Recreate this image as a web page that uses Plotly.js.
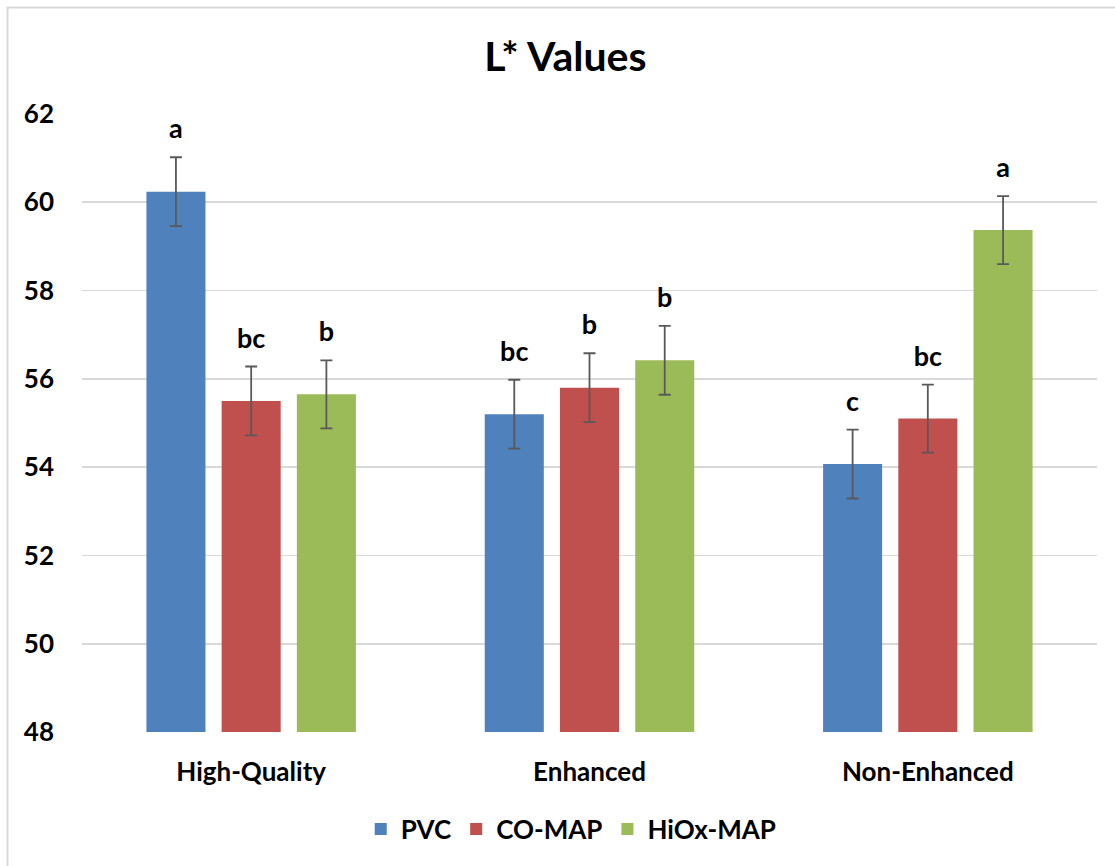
<!DOCTYPE html>
<html>
<head>
<meta charset="utf-8">
<script src="https://cdn.plot.ly/plotly-3.0.1.min.js"></script>
<style>html,body{margin:0;padding:0;background:#fff;}#chart{width:1115px;height:866px;}</style>
</head>
<body>
<div id="chart"></div>
<script>
const categories = ["High-Quality", "Enhanced", "Non-Enhanced"];
const seriesNames = ["PVC", "CO-MAP", "HiOx-MAP"];
const pvcValues = [60.24, 55.20, 54.07];
const comapValues = [55.50, 55.80, 55.10];
const hioxValues = [55.65, 56.42, 59.37];
const pvcErrors = [0.78, 0.78, 0.78];
const comapErrors = [0.78, 0.78, 0.77];
const hioxErrors = [0.77, 0.78, 0.77];
const pvcLetters = ["a", "bc", "c"];
const comapLetters = ["bc", "b", "bc"];
const hioxLetters = ["b", "b", "a"];
const yTicks = [48, 50, 52, 54, 56, 58, 60, 62];

const colors = ["#4F81BD", "#C0504D", "#9BBB59"];
const values = [pvcValues, comapValues, hioxValues];
const errors = [pvcErrors, comapErrors, hioxErrors];
const letters = [pvcLetters, comapLetters, hioxLetters];
const fontFam = "Lato, 'Open Sans', sans-serif";

const traces = [];
for (let i = 0; i < 3; i++) {
  traces.push({
    type: "bar",
    name: seriesNames[i],
    x: categories,
    y: values[i],
    offsetgroup: String(i),
    alignmentgroup: "g",
    marker: {color: colors[i]},
    error_y: {type: "data", array: errors[i], visible: true, color: "#595959", thickness: 1.8, width: 6},
    hoverinfo: "none"
  });
}
for (let i = 0; i < 3; i++) {
  traces.push({
    type: "scatter",
    mode: "markers+text",
    x: categories,
    y: values[i].map((v, k) => v + errors[i][k]),
    text: letters[i],
    textposition: "top center",
    marker: {size: 18, color: "rgba(0,0,0,0)"},
    textfont: {family: fontFam, size: 27, color: "#000", weight: "bold"},
    offsetgroup: String(i),
    alignmentgroup: "g",
    showlegend: false,
    hoverinfo: "none",
    cliponaxis: false
  });
}

const layout = {
  width: 1115,
  height: 866,
  margin: {l: 82, r: 18, t: 114, b: 134},
  paper_bgcolor: "#fff",
  plot_bgcolor: "#fff",
  barmode: "group",
  scattermode: "group",
  bargap: 0.333,
  bargroupgap: 0.215,
  scattergap: 0.333,
  title: {
    text: "<b>L* Values</b>",
    x: 0.507, xref: "container", xanchor: "center",
    y: 54, yref: "container", yanchor: "middle",
    font: {family: fontFam, size: 41, color: "#000"}
  },
  xaxis: {
    type: "category",
    showgrid: false,
    showline: false,
    zeroline: false,
    ticks: "",
    tickfont: {family: fontFam, size: 26, color: "#000", weight: "bold"},
    ticklabelstandoff: 22
  },
  yaxis: {
    range: [48, 62],
    tickvals: yTicks,
    ticktext: yTicks.map(String),
    showgrid: true,
    gridcolor: "#D9D9D9",
    gridwidth: 1.6,
    zeroline: false,
    showline: false,
    ticks: "",
    tickfont: {family: fontFam, size: 26, color: "#000", weight: "bold"},
    ticklabelstandoff: 27
  },
  legend: {
    orientation: "h",
    x: 0.482, xanchor: "center",
    y: -0.157, yanchor: "middle",
    font: {family: fontFam, size: 26, color: "#000", weight: "bold"},
    itemwidth: 30,
    traceorder: "normal"
  },
  showlegend: true,
  shapes: [{
    type: "rect", xref: "paper", yref: "paper",
    x0: -0.0734, x1: 1.5, y0: -0.6, y1: 1.1724,
    line: {color: "#D9D9D9", width: 2}, fillcolor: "rgba(0,0,0,0)", layer: "below"
  }]
};

Plotly.newPlot("chart", traces, layout, {displayModeBar: false, staticPlot: true});
</script>
</body>
</html>
